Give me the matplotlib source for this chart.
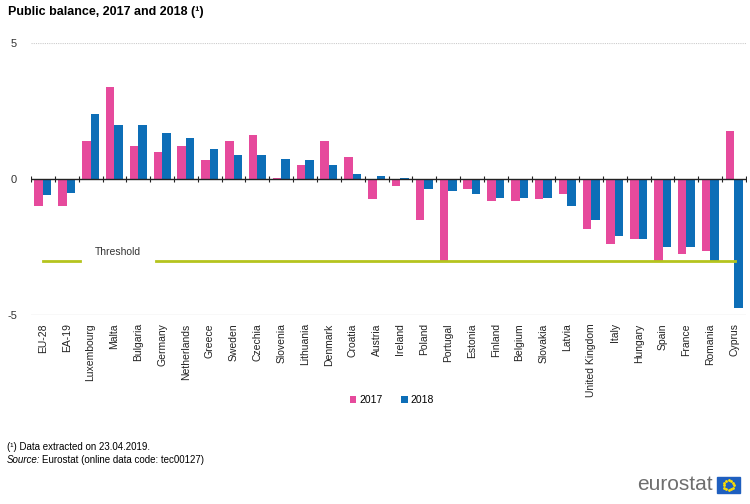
import numpy as np
import matplotlib
matplotlib.use("Agg")
from matplotlib import pyplot as plt
from matplotlib.patches import Rectangle

plt.rcParams["font.family"] = ["Liberation Sans", "DejaVu Sans"]

countries = ["EU-28", "EA-19", "Luxembourg", "Malta", "Bulgaria", "Germany",
             "Netherlands", "Greece", "Sweden", "Czechia", "Slovenia", "Lithuania",
             "Denmark", "Croatia", "Austria", "Ireland", "Poland", "Portugal",
             "Estonia", "Finland", "Belgium", "Slovakia", "Latvia", "United Kingdom",
             "Italy", "Hungary", "Spain", "France", "Romania", "Cyprus"]
y2017 = [-1.0, -1.0, 1.4, 3.4, 1.2, 1.0, 1.2, 0.7, 1.4, 1.6, 0.05, 0.5,
         1.4, 0.8, -0.75, -0.25, -1.5, -3.0, -0.35, -0.8, -0.8, -0.75, -0.55, -1.85,
         -2.4, -2.2, -3.05, -2.75, -2.65, 1.75]
y2018 = [-0.6, -0.5, 2.4, 2.0, 2.0, 1.7, 1.5, 1.1, 0.9, 0.9, 0.75, 0.7,
         0.5, 0.2, 0.1, 0.05, -0.35, -0.45, -0.55, -0.7, -0.7, -0.7, -1.0, -1.5,
         -2.1, -2.2, -2.5, -2.5, -3.0, -4.75]
threshold = -3.0

pink = "#e64a9c"
blue = "#0d6eb7"
green = "#b5c41e"

fig = plt.figure(figsize=(7.5, 5.04), dpi=100)
ax = fig.add_axes([31 / 750, 1 - 315 / 504, 715 / 750, 272 / 504])

x = np.arange(len(countries))
w = 0.36
ax.bar(x - w / 2, y2017, w, color=pink, label="2017", zorder=3)
ax.bar(x + w / 2, y2018, w, color=blue, label="2018", zorder=3)

# threshold line with a gap for its label
ax.plot([0, 1.55], [threshold, threshold], color=green, lw=2, zorder=3.5)
ax.plot([4.75, 29.05], [threshold, threshold], color=green, lw=2, zorder=3.5)
ax.text(3.15, threshold + 0.12, "Threshold", ha="center", va="bottom",
        fontsize=7.5, color="#333333")

ax.set_xlim(-0.5, len(countries) - 0.5)
ax.set_ylim(-5, 5)
ax.set_yticks([-5, 0, 5])
ax.set_yticklabels(["-5", "0", "5"])
ax.axhline(5, color="#cccccc", lw=0.8, ls=(0, (1, 1)), zorder=1)
ax.axhline(-5, color="#e0e0e0", lw=1, zorder=1)
ax.axhline(0, color="#222222", lw=1, zorder=4)
bounds = np.arange(len(countries) + 1) - 0.5
ax.plot(bounds, np.zeros_like(bounds), ls="none", marker="|", ms=4,
        color="#222222", mew=0.8, zorder=4)

for s in ax.spines.values():
    s.set_visible(False)
ax.tick_params(axis="y", length=0, labelsize=8, colors="#333333", pad=10)
ax.set_xticks(x)
ax.set_xticklabels(countries, rotation=90, fontsize=7.5)
ax.tick_params(axis="x", length=0, pad=6, colors="#222222")

fig.text(8 / 750, 1 - 12 / 504, "Public balance, 2017 and 2018 (¹)",
         fontsize=9, fontweight="bold", va="center", ha="left")

ax.legend(loc="center", bbox_to_anchor=(392 / 750, 1 - 400 / 504),
          bbox_transform=fig.transFigure, ncol=2, frameon=False, fontsize=7.5,
          handlelength=0.6, handleheight=0.6, handletextpad=0.3, columnspacing=1.8)

fig.text(7 / 750, 1 - 447 / 504, "(¹) Data extracted on 23.04.2019.",
         fontsize=7, va="center", ha="left")
fig.text(7 / 750, 1 - 460 / 504, "Source:", fontsize=7, style="italic",
         va="center", ha="left")
fig.text(42 / 750, 1 - 460 / 504, "Eurostat (online data code: tec00127)",
         fontsize=7, va="center", ha="left")

# eurostat logo
fig.text(713 / 750, 1 - 485 / 504, "eurostat", fontsize=15, color="#6e6e6e",
         ha="right", va="center")
flag = Rectangle((717 / 750, 1 - 493 / 504), 23 / 750, 16 / 504,
                 transform=fig.transFigure, color="#1f5fbf")
fig.patches.append(flag)
ang = np.linspace(0, 2 * np.pi, 12, endpoint=False)
fig.add_artist(plt.Line2D((728.5 + 5 * np.cos(ang)) / 750,
                          1 - (485 + 5 * np.sin(ang)) / 504,
                          ls="none", marker="o", ms=1, color="#ffdd00",
                          transform=fig.transFigure))

fig.savefig("out.png", dpi=100)
